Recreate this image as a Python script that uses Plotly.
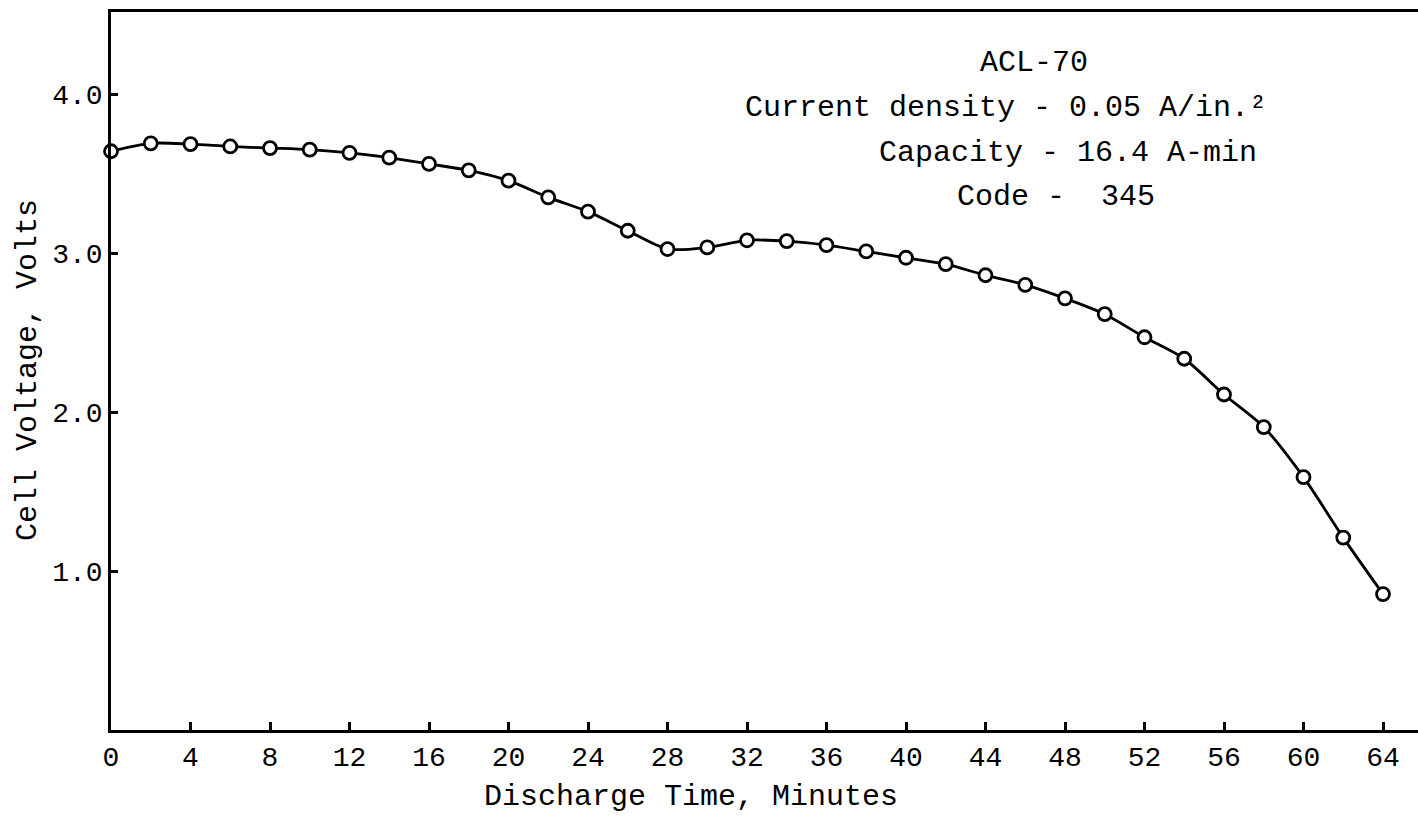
import plotly.graph_objects as go

# Discharge curve of cell ACL-70 (code 345)
minutes = [0, 2, 4, 6, 8, 10, 12, 14, 16, 18, 20, 22, 24, 26, 28, 30, 32,
           34, 36, 38, 40, 42, 44, 46, 48, 50, 52, 54, 56, 58, 60, 62, 64]
volts = [3.64, 3.69, 3.685, 3.67, 3.66, 3.65, 3.63, 3.60, 3.56, 3.52, 3.455,
         3.35, 3.26, 3.14, 3.025, 3.035, 3.08, 3.075, 3.05, 3.01, 2.97, 2.93,
         2.86, 2.80, 2.715, 2.615, 2.47, 2.335, 2.11, 1.905, 1.59, 1.21, 0.855]

x_ticks = [0, 4, 8, 12, 16, 20, 24, 28, 32, 36, 40, 44, 48, 52, 56, 60, 64]
x_tick_text = [str(v) for v in x_ticks]
y_ticks = [1, 2, 3, 4]
y_tick_text = ["1.0", "2.0", "3.0", "4.0"]

info_lines = ["ACL-70",
              "Current density - 0.05 A/in.²",
              "Capacity - 16.4 A-min",
              "Code -  345"]

W, H = 1418, 821
L, R, T, B = 111, 0, 12, 91
FONT = "Courier New, Liberation Mono, monospace"
FS = 30
TICK_FS = 28


def px(xp):
    return (xp - L) / (W - L - R)


def py(yp):
    return (H - B - yp) / (H - B - T)


fig = go.Figure()
fig.add_trace(go.Scatter(
    x=minutes, y=volts, mode="lines+markers",
    line=dict(color="black", width=2.8, shape="spline", smoothing=0.8),
    marker=dict(symbol="circle", size=13, color="white",
                line=dict(color="black", width=2.8)),
    cliponaxis=False, showlegend=False,
))

annotations = []
# Text block in the upper right
for text, left, yc in zip(info_lines, [978, 743, 877, 955], [63, 108, 153, 197]):
    annotations.append(dict(
        text=text, xref="paper", yref="paper", x=px(left), y=py(yc),
        xanchor="left", yanchor="middle", showarrow=False,
        font=dict(family=FONT, size=FS, color="black")))

# Axis titles
annotations.append(dict(
    text="Cell Voltage, Volts", xref="paper", yref="paper",
    x=px(28), y=py(370), textangle=-90, xanchor="center", yanchor="middle",
    showarrow=False, font=dict(family=FONT, size=FS, color="black")))
annotations.append(dict(
    text="Discharge Time, Minutes", xref="paper", yref="paper",
    x=px(691), y=py(797), xanchor="center", yanchor="middle",
    showarrow=False, font=dict(family=FONT, size=FS, color="black")))

fig.update_layout(
    width=W, height=H,
    margin=dict(l=L, r=R, t=T, b=B),
    paper_bgcolor="white", plot_bgcolor="white",
    annotations=annotations,
    xaxis=dict(
        range=[0, (W - L - R) / 19.875], tickvals=x_ticks, ticktext=x_tick_text,
        ticks="inside", ticklen=8, tickwidth=2.5, tickcolor="black",
        showline=True, linecolor="black", linewidth=2.5, mirror=True,
        showgrid=False, zeroline=False,
        tickfont=dict(family=FONT, size=TICK_FS, color="black"),
    ),
    yaxis=dict(
        range=[0, (H - B - T) / 159.0], tickvals=y_ticks, ticktext=y_tick_text,
        ticks="inside", ticklen=7, tickwidth=2.5, tickcolor="black",
        showline=True, linecolor="black", linewidth=2.5,
        showgrid=False, zeroline=False, ticklabelstandoff=0,
        tickfont=dict(family=FONT, size=TICK_FS, color="black"),
    ),
)

fig.write_html("out.html")
